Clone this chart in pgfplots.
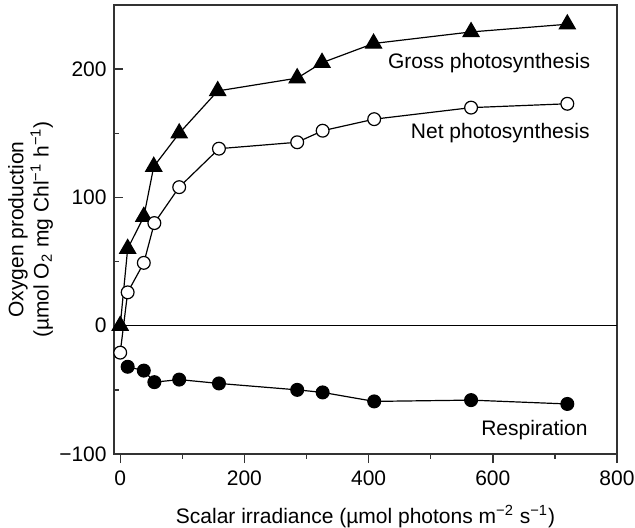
\documentclass[border=0pt]{standalone}
\usepackage{fontspec}
\setmainfont{Liberation Sans}
\usepackage{pgfplots}
\pgfplotsset{compat=1.18}
\begin{document}
\fontsize{10.5}{12.6}\selectfont
\begin{tikzpicture}
\begin{axis}[
  scale only axis, width=251.5pt, height=224.5pt,
  xmin=-10, xmax=800, ymin=-100, ymax=250,
  axis line style={black!80, line width=0.9pt},
  every tick/.style={black!80, line width=0.7pt},
  xtick={0,200,400,600,800}, minor xtick={100,300,500,700},
  ytick={-100,0,100,200}, yticklabels={−100,0,100,200},
  minor ytick={-50,50,150},
  xtick pos=bottom, ytick pos=left,
  xtick align=outside, ytick align=inside,
  major tick length=4.5pt, minor tick length=2.5pt,
  /pgf/number format/assume math mode=true,
  tick label style={font=\fontsize{10.5}{12.6}\selectfont},
  label style={font=\fontsize{10.5}{12.6}\selectfont},
  xlabel={Scalar irradiance (µmol photons m\textsuperscript{−2} s\textsuperscript{−1})},
  ylabel={Oxygen production\\(µmol O\textsubscript{2} mg Chl\textsuperscript{−1} h\textsuperscript{−1})},
  ylabel style={align=center},
  xlabel shift=3pt, ylabel shift=-4pt,
  clip=false,
]
\addplot[black, line width=0.6pt] coordinates {(-10,0) (800,0)};
% Gross photosynthesis
\addplot[black, line width=0.6pt, mark=triangle*, mark size=4.6pt, mark options={fill=black, solid}]
  coordinates {(0,0) (12,60) (38,85) (54,124) (95,150) (157,183) (285,193) (325,205) (408,220) (565,229) (720,235)};
% Net photosynthesis
\addplot[black, line width=0.6pt, mark=*, mark size=3.2pt, mark options={fill=white, draw=black, line width=0.6pt}]
  coordinates {(0,-21) (12,26) (38,49) (55,80) (95,108) (159,138) (285,143) (326,152) (409,161) (565,170) (720,173)};
% Respiration
\addplot[black, line width=0.6pt, mark=*, mark size=3.2pt, mark options={fill=black}]
  coordinates {(12,-32) (38,-35) (55,-44) (95,-42) (159,-45) (285,-50) (326,-52) (409,-59) (565,-58) (720,-61)};
\node at (axis cs:594,205) {Gross photosynthesis};
\node at (axis cs:612,150) {Net photosynthesis};
\node at (axis cs:667,-81) {Respiration};
\end{axis}
\pgfresetboundingbox
\path ([xshift=-57pt, yshift=-37pt]current axis.south west) rectangle ([xshift=9pt, yshift=2.5pt]current axis.north east);
\end{tikzpicture}
\end{document}
